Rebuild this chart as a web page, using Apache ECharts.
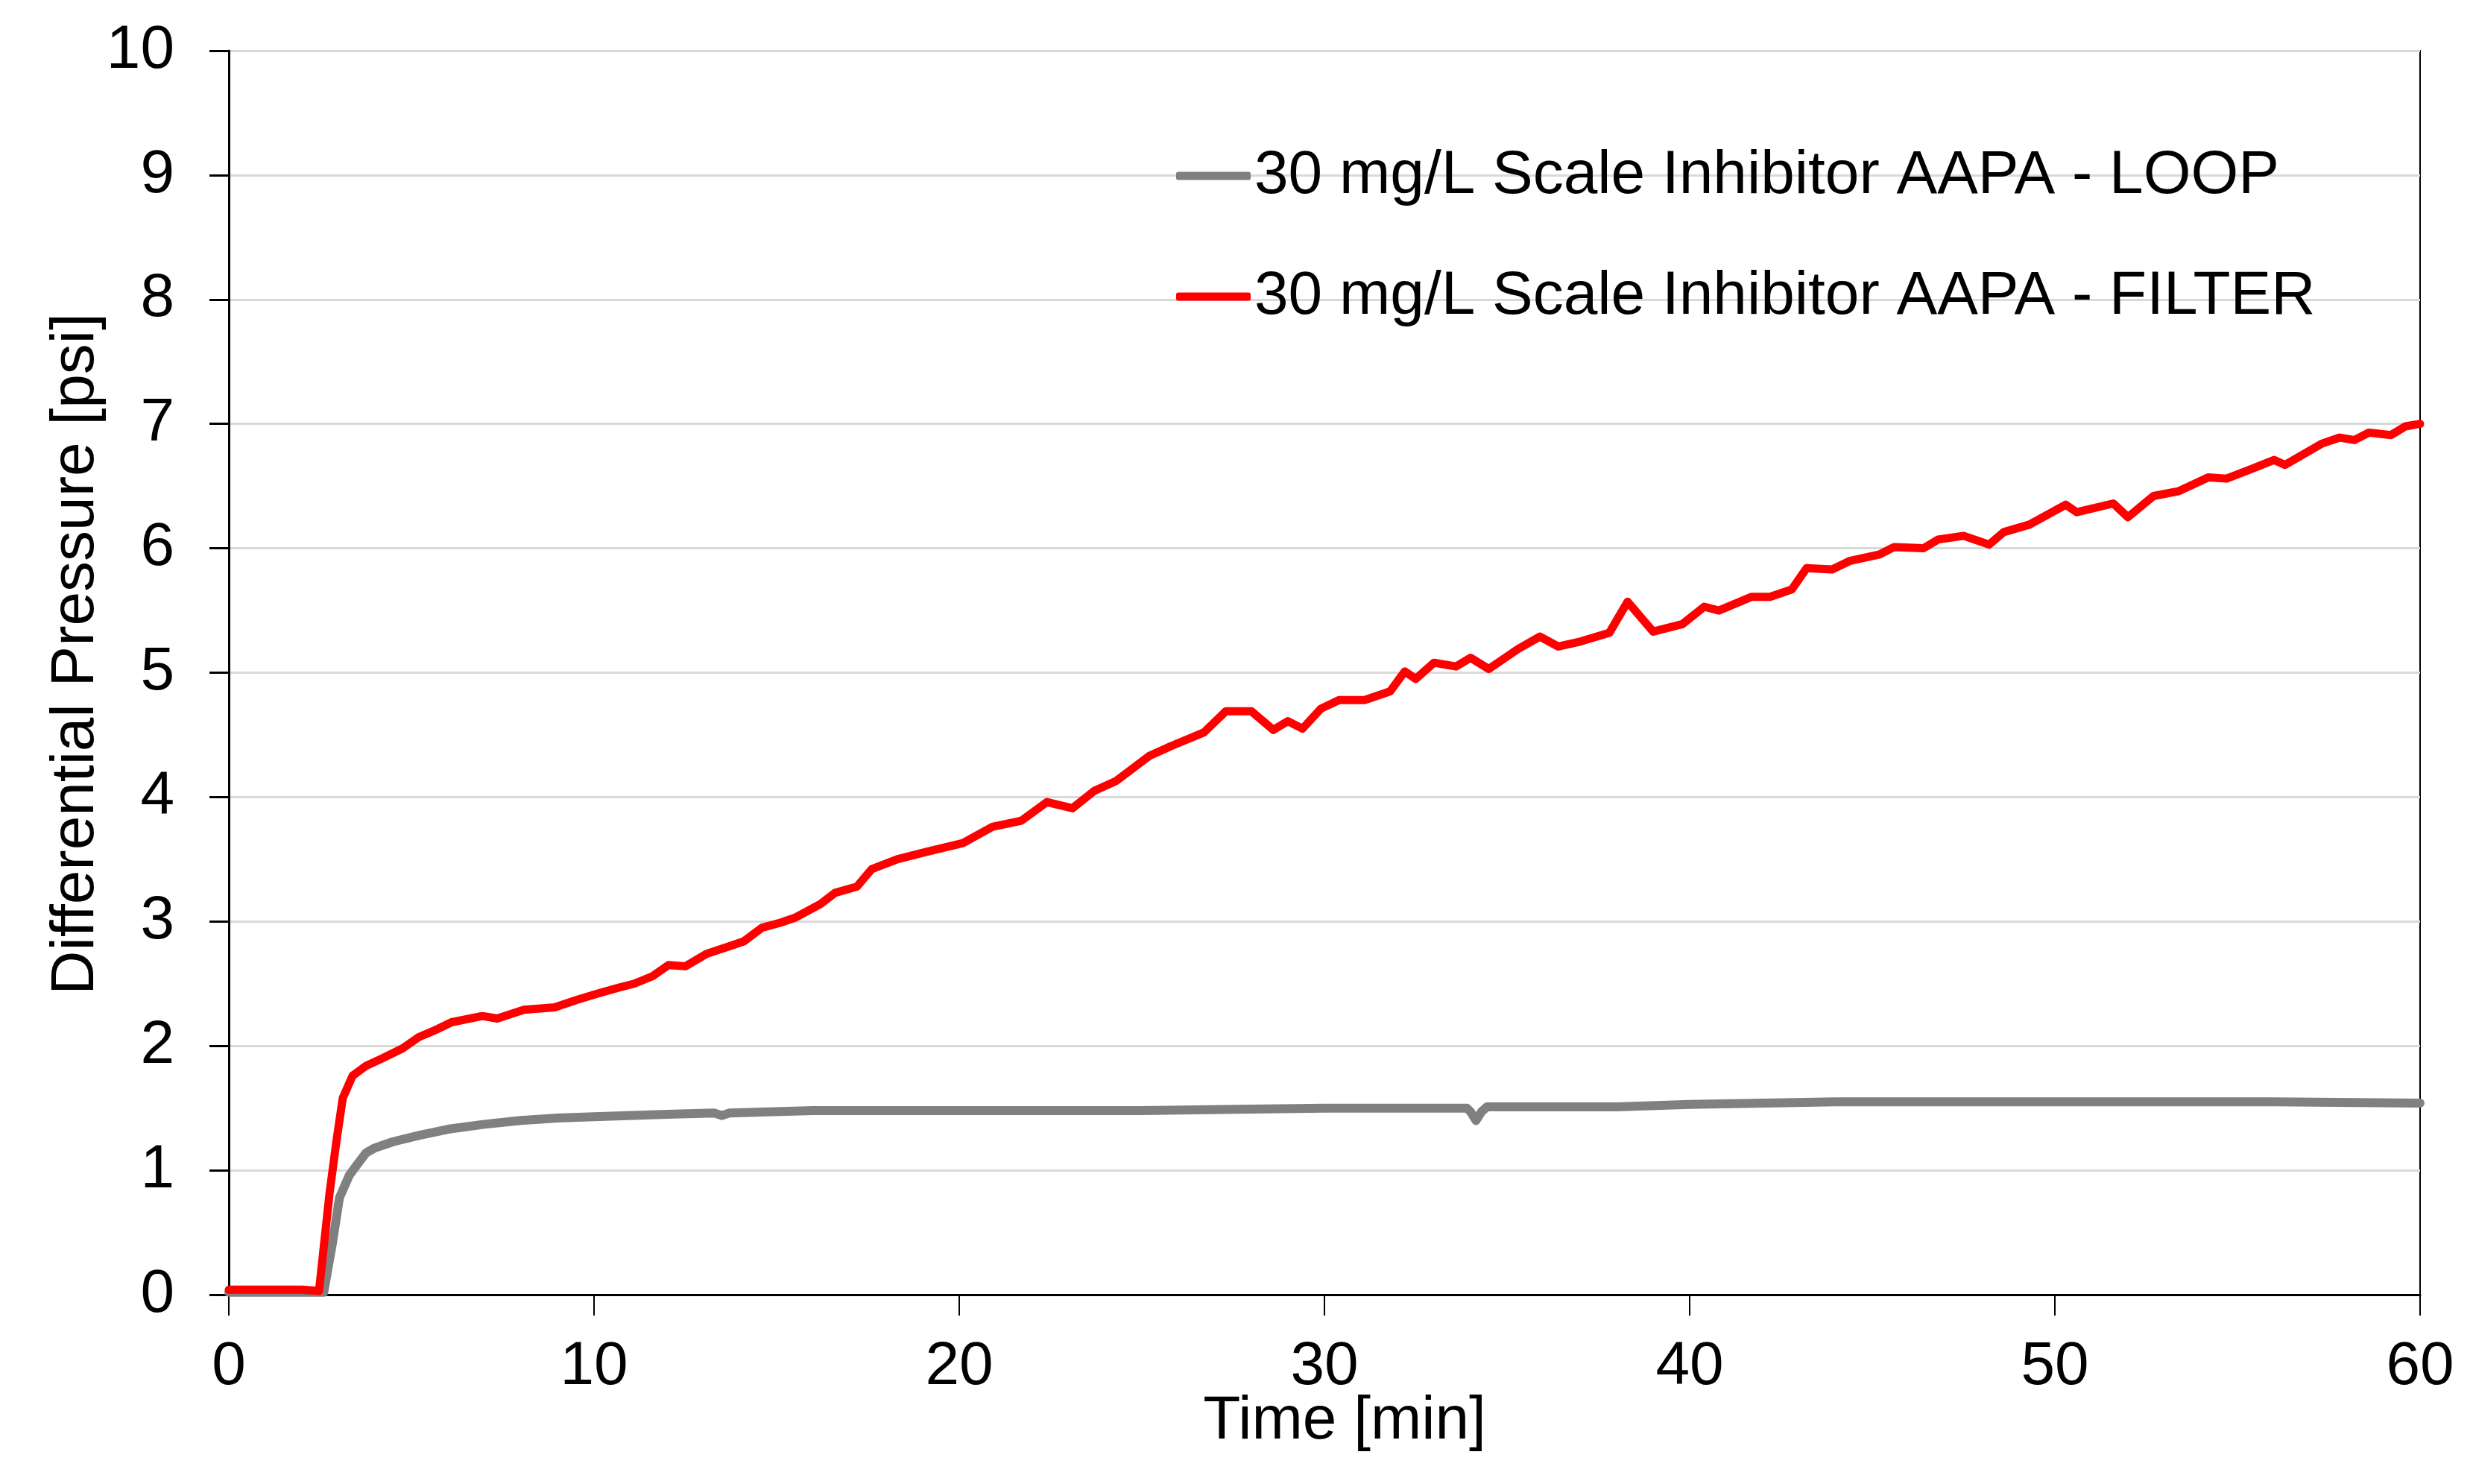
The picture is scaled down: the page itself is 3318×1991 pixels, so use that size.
<!DOCTYPE html>
<html>
<head>
<meta charset="utf-8">
<script src="https://cdn.jsdelivr.net/npm/echarts@6/dist/echarts.min.js"></script>
<style>
html,body{margin:0;padding:0;background:#fff;}
#chart{width:3318px;height:1991px;}
</style>
</head>
<body>
<div id="chart"></div>
<script>
const xTicks = [0, 10, 20, 30, 40, 50, 60];
const yTicks = [0, 1, 2, 3, 4, 5, 6, 7, 8, 9, 10];

const loopName = '30 mg/L Scale Inhibitor AAPA - LOOP';
const filterName = '30 mg/L Scale Inhibitor AAPA - FILTER';

const loopTime = [0, 1, 2, 2.6, 2.84, 3.03, 3.3, 3.5, 3.76, 4.0, 4.5, 5.2, 6.0, 7.0, 8.0, 9.0, 10, 12, 13.3, 13.5, 13.7, 16, 20, 25, 30, 33.9, 34.0, 34.15, 34.3, 34.45, 38, 40, 44, 50, 56, 60];
const loopDP   = [0.02, 0.02, 0.02, 0.02, 0.42, 0.78, 0.96, 1.04, 1.14, 1.18, 1.23, 1.28, 1.33, 1.37, 1.40, 1.42, 1.43, 1.45, 1.46, 1.44, 1.46, 1.48, 1.48, 1.48, 1.50, 1.50, 1.47, 1.40, 1.47, 1.51, 1.51, 1.53, 1.55, 1.55, 1.55, 1.54];

const filterTime = [0, 1, 2, 2.47, 2.76, 2.94, 3.12, 3.39, 3.76, 4.2, 4.76, 5.2, 5.6, 6.1, 6.94, 7.35, 8.08, 8.92, 9.53, 10.1, 10.7, 11.1, 11.6, 12.04, 12.5, 13.08, 13.6, 14.1, 14.6, 15.1, 15.5, 16.2, 16.6, 17.2, 17.6, 18.3, 19.1, 20.1, 20.9, 21.7, 22.4, 23.1, 23.7, 24.3, 25.2, 25.8, 26.7, 27.3, 28.0, 28.6, 29.0, 29.4, 29.9, 30.4, 31.1, 31.8, 32.2, 32.5, 33.0, 33.6, 34.0, 34.5, 35.3, 35.9, 36.4, 37.0, 37.8, 38.3, 39.0, 39.8, 40.4, 40.8, 41.7, 42.2, 42.8, 43.2, 43.9, 44.4, 45.2, 45.6, 46.4, 46.8, 47.5, 48.2, 48.6, 49.3, 50.3, 50.6, 51.6, 52.0, 52.7, 53.4, 54.2, 54.7, 55.4, 56.0, 56.3, 57.3, 57.8, 58.2, 58.6, 59.2, 59.6, 60];
const filterDP   = [0.04, 0.04, 0.04, 0.03, 0.82, 1.22, 1.58, 1.76, 1.84, 1.90, 1.98, 2.07, 2.12, 2.19, 2.24, 2.22, 2.29, 2.31, 2.37, 2.42, 2.47, 2.50, 2.56, 2.65, 2.64, 2.74, 2.79, 2.84, 2.95, 2.99, 3.03, 3.14, 3.23, 3.28, 3.42, 3.50, 3.56, 3.63, 3.76, 3.81, 3.96, 3.91, 4.05, 4.13, 4.33, 4.41, 4.52, 4.69, 4.69, 4.54, 4.61, 4.55, 4.71, 4.78, 4.78, 4.85, 5.01, 4.95, 5.08, 5.05, 5.12, 5.03, 5.19, 5.29, 5.21, 5.25, 5.32, 5.57, 5.33, 5.39, 5.53, 5.50, 5.61, 5.61, 5.67, 5.84, 5.83, 5.90, 5.95, 6.01, 6.00, 6.07, 6.10, 6.03, 6.13, 6.19, 6.35, 6.29, 6.36, 6.25, 6.42, 6.46, 6.57, 6.56, 6.64, 6.71, 6.67, 6.84, 6.89, 6.87, 6.93, 6.91, 6.98, 7.00];

const FONT = '"Liberation Sans", Arial, sans-serif';
const pairs = (xs, ys) => xs.map((x, i) => [x, ys[i]]);

const chart = echarts.init(document.getElementById('chart'), null, {renderer: 'canvas'});
chart.setOption({
  animation: false,
  backgroundColor: '#ffffff',
  grid: {
    left: 307, right: 71, top: 68, bottom: 254,
    show: true, borderColor: '#000000', borderWidth: 2, backgroundColor: 'transparent'
  },
  legend: {
    orient: 'vertical',
    left: 1573, top: 190,
    itemWidth: 100, itemHeight: 11, itemGap: 80,
    icon: 'roundRect',
    textStyle: {fontFamily: FONT, fontSize: 82, color: '#000', lineHeight: 82},
    data: [loopName, filterName]
  },
  xAxis: {
    type: 'value', min: xTicks[0], max: xTicks[xTicks.length - 1], interval: 10,
    name: 'Time [min]', nameLocation: 'middle', nameGap: 129, nameMoveOverlap: false,
    nameTextStyle: {fontFamily: FONT, fontSize: 82, color: '#000', padding: [0, 0, 0, 54]},
    axisLine: {show: true, onZero: false, lineStyle: {color: '#000', width: 3}},
    axisTick: {show: true, inside: false, length: 28, lineStyle: {color: '#000', width: 2}},
    axisLabel: {fontFamily: FONT, fontSize: 82, color: '#000', margin: 56},
    splitLine: {show: false}
  },
  yAxis: {
    type: 'value', min: yTicks[0], max: yTicks[yTicks.length - 1], interval: 1,
    name: 'Differential Pressure [psi]', nameLocation: 'middle', nameGap: 164, nameMoveOverlap: false,
    nameTextStyle: {fontFamily: FONT, fontSize: 82, color: '#000', padding: [0, 0, 0, 50]},
    axisLine: {show: true, lineStyle: {color: '#000', width: 3}},
    axisTick: {show: true, inside: false, length: 26, lineStyle: {color: '#000', width: 3}},
    axisLabel: {fontFamily: FONT, fontSize: 82, color: '#000', margin: 73},
    splitLine: {show: true, lineStyle: {color: '#d9d9d9', width: 3}}
  },
  series: [
    {
      name: loopName, type: 'line', showSymbol: false, symbol: 'none',
      data: pairs(loopTime, loopDP),
      itemStyle: {color: '#808080'},
      lineStyle: {color: '#808080', width: 12, cap: 'round', join: 'round'}
    },
    {
      name: filterName, type: 'line', showSymbol: false, symbol: 'none',
      data: pairs(filterTime, filterDP),
      itemStyle: {color: '#ff0000'},
      lineStyle: {color: '#ff0000', width: 11, cap: 'round', join: 'round'}
    }
  ]
});
</script>
</body>
</html>
